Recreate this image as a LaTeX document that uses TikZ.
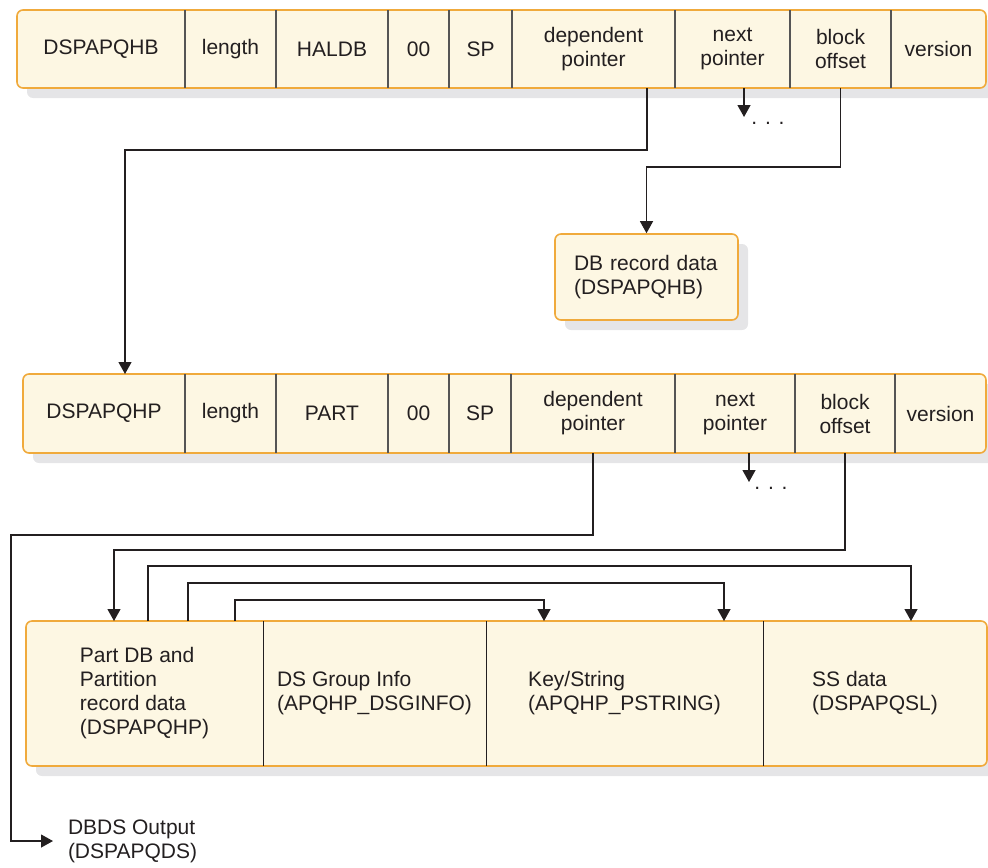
\documentclass[tikz,border=0pt]{standalone}
\usepackage{fontspec}
\setmainfont{Liberation Sans}
\usetikzlibrary{arrows.meta,positioning,fit,backgrounds,shadows}

\definecolor{recfill}{HTML}{FDF7E3}
\definecolor{recline}{HTML}{F0AA3C}
\definecolor{shadowgray}{HTML}{E5E5E7}
\definecolor{divline}{HTML}{555555}
\definecolor{arrline}{HTML}{231F20}

\begin{document}
\begin{tikzpicture}[
  x=0.5pt, y=-0.5pt,
  node distance=0pt,
  font=\fontsize{10.5}{12}\selectfont,
  cell/.style={inner sep=0pt, outer sep=0pt, align=center, text=arrline},
  hrow/.style={cell, minimum height=39pt},
  prow/.style={cell, minimum height=39.5pt},
  drow/.style={cell, minimum height=72.5pt, align=left},
  recbox/.style={draw=recline, line width=0.8pt, fill=recfill, rounded corners=3pt, inner sep=0pt,
    drop shadow={shadow xshift=5pt, shadow yshift=-5pt, fill=shadowgray, opacity=1}},
  divider/.style={draw=divline, line width=0.6pt},
  arr/.style={-{Triangle[length=6pt, width=6.5pt]}, line width=0.6pt, draw=arrline}
]
\useasboundingbox (0,0) rectangle (988,867);

% HALDB header record
\node[hrow, minimum width=84pt, anchor=north west] (hb-name) at (17,10) {DSPAPQHB};
\node[hrow, minimum width=45.5pt, right=of hb-name] (hb-len) {length};
\node[hrow, minimum width=56pt, right=of hb-len] (hb-type) {HALDB};
\node[hrow, minimum width=30.5pt, right=of hb-type] (hb-zero) {00};
\node[hrow, minimum width=31.5pt, right=of hb-zero] (hb-sp) {SP};
\node[hrow, minimum width=81.5pt, right=of hb-sp] (hb-dp) {dependent\\pointer};
\node[hrow, minimum width=57.5pt, right=of hb-dp] (hb-np) {next\\pointer};
\node[hrow, minimum width=50.5pt, right=of hb-np] (hb-bo) {block\\offset};
\node[hrow, minimum width=47.5pt, right=of hb-bo] (hb-ver) {version};
\foreach \c in {name,len,type,zero,sp,dp,np,bo}
  \draw[divider] (hb-\c.north east) -- (hb-\c.south east);

\node[recbox, minimum width=91.5pt, minimum height=43pt, align=left, text width=72.5pt, inner xsep=9.5pt, text=arrline] (dbrec) at (646.5,277) {DB record data\\(DSPAPQHB)};

% partition header record
\node[prow, minimum width=81pt, anchor=north west] (hp-name) at (23,374) {DSPAPQHP};
\node[prow, minimum width=45.5pt, right=of hp-name] (hp-len) {length};
\node[prow, minimum width=56pt, right=of hp-len] (hp-type) {PART};
\node[prow, minimum width=30.5pt, right=of hp-type] (hp-zero) {00};
\node[prow, minimum width=31pt, right=of hp-zero] (hp-sp) {SP};
\node[prow, minimum width=82pt, right=of hp-sp] (hp-dp) {dependent\\pointer};
\node[prow, minimum width=60pt, right=of hp-dp] (hp-np) {next\\pointer};
\node[prow, minimum width=50pt, right=of hp-np] (hp-bo) {block\\offset};
\node[prow, minimum width=45.5pt, right=of hp-bo] (hp-ver) {version};
\foreach \c in {name,len,type,zero,sp,dp,np,bo}
  \draw[divider] (hp-\c.north east) -- (hp-\c.south east);

% partition data
\node[drow, minimum width=118.5pt, anchor=north west] (part) at (26,621) {Part DB and\\Partition\\record data\\(DSPAPQHP)};
\node[drow, minimum width=111.5pt, right=of part] (dsg) {DS Group Info\\(APQHP\_DSGINFO)};
\node[drow, minimum width=138.5pt, right=of dsg] (key) {Key/String\\(APQHP\_PSTRING)};
\node[drow, minimum width=112pt, right=of key] (ss) {SS data\\(DSPAPQSL)};
\foreach \c in {part,dsg,key}
  \draw[draw=arrline, line width=0.5pt] (\c.north east) -- (\c.south east);

\begin{scope}[on background layer]
  \node[recbox, fit=(hb-name)(hb-ver)] (hb) {};
  \node[recbox, fit=(hp-name)(hp-ver)] (hp) {};
  \node[recbox, fit=(part)(ss)] (parts) {};
\end{scope}

\node[cell] (hb-more) at (768,123) {. . .};
\node[cell] (hp-more) at (771,488) {. . .};
\coordinate (hb-end) at (744,117);
\coordinate (hp-end) at (749,482);
\node[cell, anchor=west, align=left] (dbds) at (68,841) {DBDS Output\\(DSPAPQDS)};

\draw[arr] ([xshift=26.75pt]hb-dp.south) -- ++(0,62) -| ([xshift=10.5pt]hp-name.north);
\draw[arr] (hb-np.south -| hb-end) -- (hb-end);
\draw[arr] (hb-bo.south) -- ++(0,79) -| (dbrec.north);

\draw[arr] (hp-dp.south) -- ++(0,82) -- ++(-582,0) |- ([xshift=-7.5pt]dbds.west);
\draw[arr] (hp-np.south -| hp-end) -- (hp-end);
\draw[arr] (hp-bo.south) -- ++(0,97) -| ([xshift=-15.25pt]part.north);

\draw[arr] ([xshift=1.75pt]part.north) -- ++(0,-55) -| ([xshift=18pt]ss.north);
\draw[arr] ([xshift=21.75pt]part.north) -- ++(0,-38) -| ([xshift=49.75pt]key.north);
\draw[arr] ([xshift=45.25pt]part.north) -- ++(0,-21) -| ([xshift=-40.25pt]key.north);
\end{tikzpicture}
\end{document}
